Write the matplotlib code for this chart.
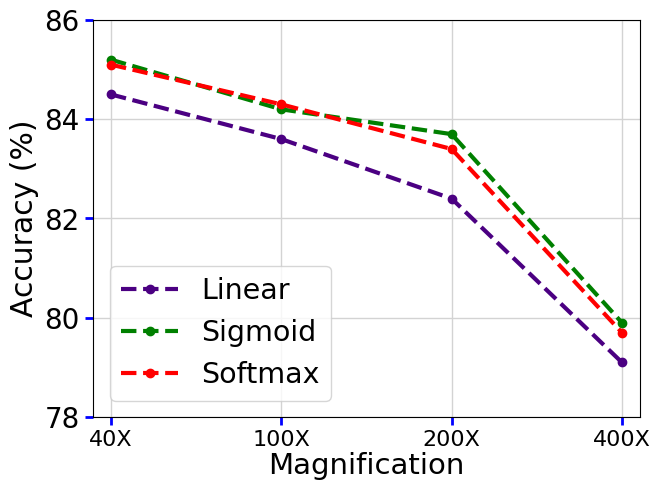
import matplotlib
matplotlib.use("Agg")
import matplotlib.pyplot as plt
import numpy as np

categories = ["40X", "100X", "200X", "400X"]
linear = [84.5, 83.6, 82.4, 79.1]
sigmoid = [85.2, 84.2, 83.7, 79.9]
softmax = [85.1, 84.3, 83.4, 79.7]
yticks = [78, 80, 82, 84, 86]

fig = plt.figure(figsize=(6.51, 4.83), dpi=100)
ax = fig.add_axes([93/651, 1 - 417/483, (640-93)/651, (417-20)/483])
x = np.arange(len(categories))
ax.plot(x, linear, "--o", color="indigo", lw=3, ms=6, label="Linear")
ax.plot(x, sigmoid, "--o", color="green", lw=3, ms=6, label="Sigmoid")
ax.plot(x, softmax, "--o", color="red", lw=3, ms=6, label="Softmax")

ax.set_xlim(-0.106, 3.106)
ax.set_ylim(78, 86)
ax.set_yticks(yticks)
ax.set_xticks(x)
ax.set_xticklabels(categories)
ax.tick_params(axis="y", labelsize=20, color="blue", width=2, length=6)
ax.tick_params(axis="x", labelsize=16, color="blue", width=2, length=6)
ax.grid(True, color="#d3d3d3", lw=1)
ax.set_axisbelow(True)
ax.set_xlabel("Magnification", fontsize=21, labelpad=1)
ax.set_ylabel("Accuracy (%)", fontsize=21.5)
ax.legend(loc="lower left", fontsize=20.5, bbox_to_anchor=(0.005, 0.005))
fig.savefig("out.png", dpi=100)
